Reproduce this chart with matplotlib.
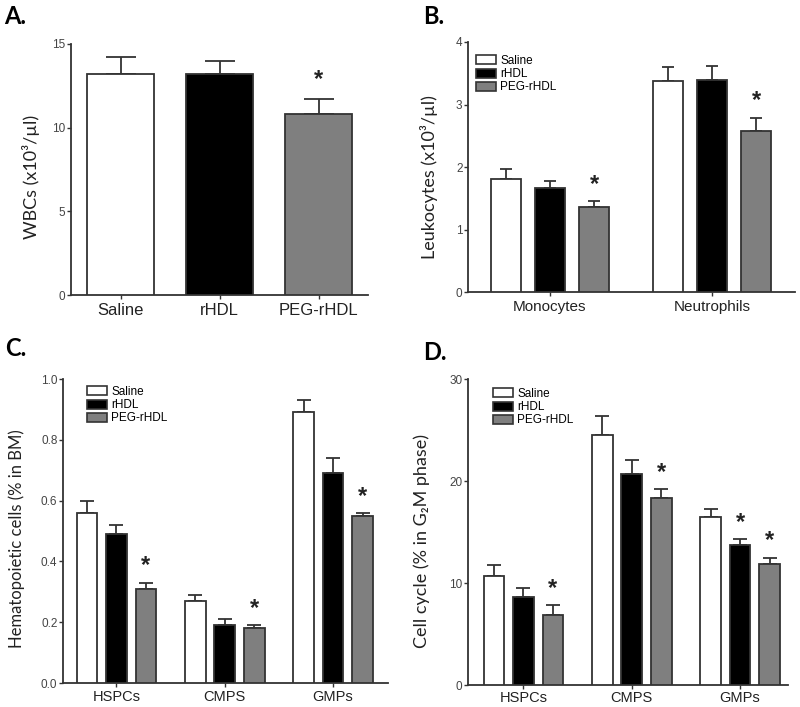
import matplotlib
matplotlib.use("Agg")
import matplotlib.pyplot as plt
import matplotlib.patches as mpatches
import numpy as np

# === Data ===
treatments = ["Saline", "rHDL", "PEG-rHDL"]

wbc_mean = [13.2, 13.2, 10.8]
wbc_sem = [1.0, 0.8, 0.9]
wbc_star = [False, False, True]

leuko_groups = ["Monocytes", "Neutrophils"]
leuko_mean = [[1.81, 3.38], [1.67, 3.40], [1.36, 2.58]]
leuko_sem = [[0.16, 0.22], [0.10, 0.22], [0.10, 0.21]]
leuko_star = [[False, False], [False, False], [True, True]]

hema_groups = ["HSPCs", "CMPS", "GMPs"]
hema_mean = [[0.56, 0.27, 0.89], [0.49, 0.19, 0.69], [0.31, 0.18, 0.55]]
hema_sem = [[0.04, 0.02, 0.04], [0.03, 0.02, 0.05], [0.02, 0.01, 0.01]]
hema_star = [[False, False, False], [False, False, False], [True, True, True]]

cycle_groups = ["HSPCs", "CMPS", "GMPs"]
cycle_mean = [[10.7, 24.5, 16.5], [8.6, 20.7, 13.7], [6.9, 18.3, 11.9]]
cycle_sem = [[1.1, 1.9, 0.8], [0.9, 1.4, 0.6], [0.9, 0.9, 0.6]]
cycle_star = [[False, False, False], [False, False, True], [True, True, True]]

colors = ["white", "black", "#7f7f7f"]
edge = "#333333"
W, H = 800, 707
LABEL_FONT = ["Lato", "DejaVu Sans"]
TICK_FONT = "Liberation Sans"


def make_axes(left, top, right, bottom):
    # pixel box -> figure fraction
    return fig.add_axes([left / W, 1 - bottom / H, (right - left) / W, (bottom - top) / H])


def style_axes(ax, ylim, yticks, fmt, ylabel, lsize, label_x, label_y, xpad):
    for s in ("top", "right"):
        ax.spines[s].set_visible(False)
    for s in ("left", "bottom"):
        ax.spines[s].set_color(edge)
        ax.spines[s].set_linewidth(1.3)
    ax.set_ylim(*ylim)
    ax.set_yticks(yticks)
    ax.set_yticklabels([fmt.format(t) for t in yticks], fontsize=8.5, color="#444444",
                       family=TICK_FONT)
    ax.tick_params(axis="y", length=3, width=1, color=edge, pad=1)
    ax.tick_params(axis="x", length=3, width=1, color=edge, pad=xpad)
    ax.set_ylabel(ylabel, fontsize=lsize, family=LABEL_FONT, color="#222222")
    ax.yaxis.set_label_coords(label_x, label_y)


def star(ax, x, y, off):
    ax.annotate("*", (x, y), xytext=(0, off), textcoords="offset points",
                ha="center", va="center", fontsize=17, fontweight="bold",
                family=TICK_FONT, color="#222222")


def draw_group(ax, centers, means, sems, stars, width, capsize, star_off):
    for i, (m, e, st) in enumerate(zip(means, sems, stars)):
        x = np.array(centers) + (i - 1)
        m = np.array(m, dtype=float)
        e = np.array(e, dtype=float)
        ax.bar(x, m, width=width, color=colors[i], edgecolor=edge, linewidth=1.3, zorder=3)
        ax.errorbar(x, m, yerr=[np.zeros_like(e), e], fmt="none", ecolor=edge,
                    elinewidth=1.3, capsize=capsize, capthick=1.3, zorder=2)
        for xi, mi, ei, si in zip(x, m, e, st):
            if si:
                star(ax, xi, mi + ei, star_off)


def add_legend(ax, ax_x, ax_y):
    handles = [mpatches.Patch(facecolor=c, edgecolor=edge, linewidth=1.2, label=t)
               for c, t in zip(colors, treatments)]
    ax.legend(handles=handles, loc="upper left", bbox_to_anchor=(ax_x, ax_y),
              frameon=False, borderaxespad=0, borderpad=0, labelspacing=0.1,
              handlelength=1.7, handleheight=0.8, handletextpad=0.35,
              prop={"family": TICK_FONT, "size": 8.5})


fig = plt.figure(figsize=(W / 100, H / 100), dpi=100)

# === Panel A ===
axA = make_axes(71, 44, 368, 295)
xA = np.arange(len(treatments))
axA.bar(xA, wbc_mean, width=0.67, color=colors, edgecolor=edge, linewidth=1.3, zorder=3)
axA.errorbar(xA, wbc_mean, yerr=[np.zeros(3), wbc_sem], fmt="none", ecolor=edge,
             elinewidth=1.3, capsize=11, capthick=1.3, zorder=2)
for xi, mi, ei, si in zip(xA, wbc_mean, wbc_sem, wbc_star):
    if si:
        star(axA, xi, mi + ei, 14)
axA.set_xlim(-0.5, 2.5)
axA.set_xticks(xA)
axA.set_xticklabels(treatments, fontsize=12, family=TICK_FONT, color="#222222")
style_axes(axA, (0, 15), [0, 5, 10, 15], "{:g}", "WBCs (x10³/µl)", 13, -0.105, 0.47, 3)

# === Panel B ===
axB = make_axes(468, 42, 795, 292)
cB = [0, 162 / 44]
draw_group(axB, cB, leuko_mean, leuko_sem, leuko_star, 0.68, 4.5, 12)
axB.set_xlim(-(550 - 468) / 44, cB[1] + (795 - 712) / 44)
axB.set_xticks(cB)
axB.set_xticklabels(leuko_groups, fontsize=11, family=TICK_FONT, color="#222222")
style_axes(axB, (0, 4), [0, 1, 2, 3, 4], "{:g}", "Leukocytes (x10³/µl)", 13, -0.092, 0.46, 3)
add_legend(axB, (476 - 468) / 327, (292 - 55) / 250)

# === Panel C ===
axC = make_axes(63, 379, 388, 683)
cC = [0, 108.3 / 29.5, 2 * 108.3 / 29.5]
draw_group(axC, cC, hema_mean, hema_sem, hema_star, 0.7, 5, 12)
axC.set_xlim(-(116.5 - 63) / 29.5, cC[2] + (388 - 333) / 29.5)
axC.set_xticks(cC)
axC.set_xticklabels(hema_groups, fontsize=10.5, family=TICK_FONT, color="#222222")
style_axes(axC, (0, 1.0), [0, 0.2, 0.4, 0.6, 0.8, 1.0], "{:.1f}",
           "Hematopoietic cells (% in BM)", 12, -0.117, 0.475, 2)
add_legend(axC, (87 - 63) / 325, (683 - 386) / 304)

# === Panel D ===
axD = make_axes(468, 379, 788, 685)
cD = [0, 108.3 / 29.5, 2 * 108.3 / 29.5]
draw_group(axD, cD, cycle_mean, cycle_sem, cycle_star, 0.7, 5, 12)
axD.set_xlim(-(523.5 - 468) / 29.5, cD[2] + (788 - 740) / 29.5)
axD.set_xticks(cD)
axD.set_xticklabels(cycle_groups, fontsize=10.5, family=TICK_FONT, color="#222222")
style_axes(axD, (0, 30), [0, 10, 20, 30], "{:g}", "Cell cycle (% in G₂M phase)", 13,
           -0.119, 0.47, 1.5)
add_legend(axD, (493 - 468) / 320, (685 - 388) / 306)

# === Panel letters ===
for letter, x, y in [("A.", 4, 16), ("B.", 423, 16), ("C.", 5, 348), ("D.", 423, 352)]:
    fig.text(x / W, 1 - y / H, letter, fontsize=17, fontweight="bold", family=LABEL_FONT,
             ha="left", va="center")

fig.savefig("out.png", dpi=100)
